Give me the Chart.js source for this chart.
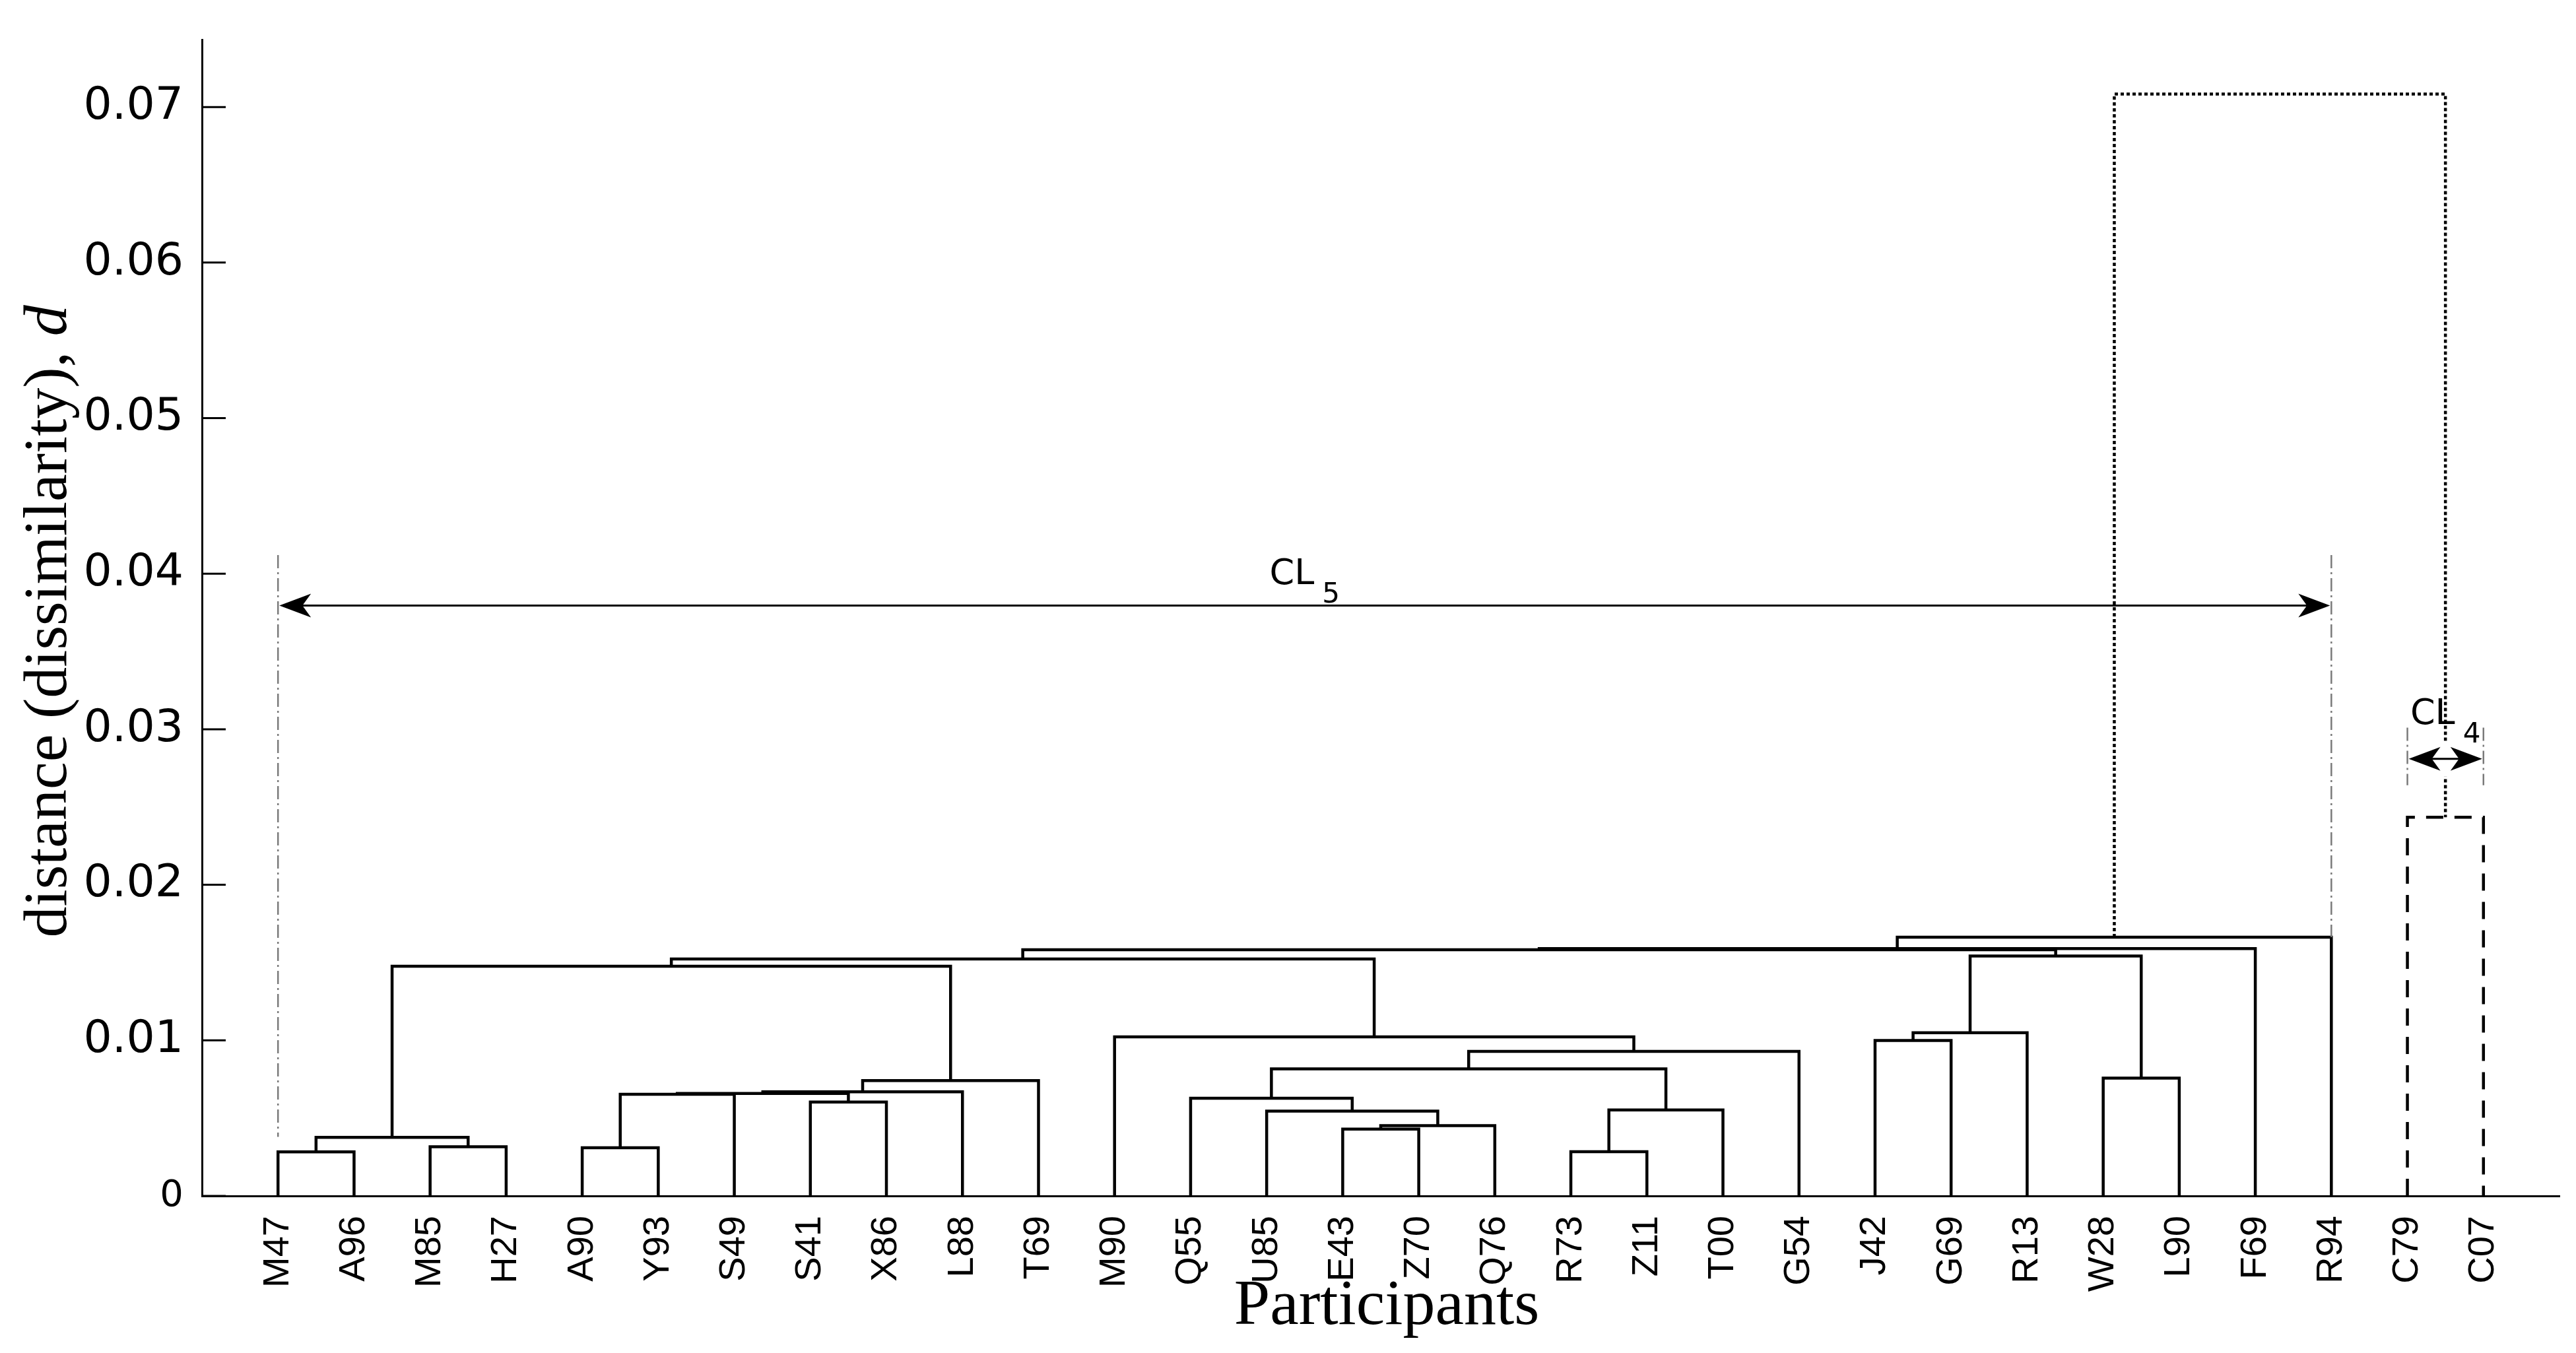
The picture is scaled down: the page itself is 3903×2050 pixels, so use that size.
<!DOCTYPE html>
<html>
<head>
<meta charset="utf-8">
<script src="https://cdn.jsdelivr.net/npm/chart.js@4.4.1/dist/chart.umd.min.js"></script>
<style>
  html, body { margin: 0; padding: 0; background: #ffffff; }
  #wrap { width: 3903px; height: 2050px; }
  canvas { display: block; }
</style>
</head>
<body>
<div id="wrap"><canvas id="c" width="3903" height="2050" style="width:3903px;height:2050px"></canvas></div>
<script>
// ---------------- DATA ----------------
const participants = ['M47','A96','M85','H27','A90','Y93','S49','S41','X86','L88','T69','M90','Q55','U85','E43','Z70','Q76','R73','Z11','T00','G54','J42','G69','R13','W28','L90','F69','R94','C79','C07'];

// linkage: merge k (1-based, named 'n<k>') joins mergeLeft[k-1] and mergeRight[k-1] at mergeHeight[k-1]
const mergeLeft   = ['M47','R73','A90','M85','n1','E43','n6','U85','n2','S41','Q55','n3','n12','n13','n14','W28','n11','n17','J42','M90','n19','n5','n22','n21','n23','n25','n26','C79','n27'];
const mergeRight  = ['A96','Z11','Y93','H27','n4','Z70','Q76','n7','T00','X86','n8','S49','n10','L88','T69','L90','n9','G54','G69','n18','R13','n15','n20','n16','n24','F69','R94','C07','n28'];
const mergeHeight = [0.00283,0.00284,0.00310,0.00316,0.00377,0.00430,0.00452,0.00545,0.00553,0.00604,0.00628,0.00653,0.00659,0.00669,0.00741,0.00757,0.00817,0.00929,0.00999,0.01022,0.01049,0.01477,0.01523,0.01542,0.01583,0.01590,0.01663,0.02434,0.07083];

const yTickValues = [0, 0.01, 0.02, 0.03, 0.04, 0.05, 0.06, 0.07];
const yMax = 0.0743;

// cluster annotations (values in data units)
const clusterBase      = ['CL', 'CL'];
const clusterSub       = ['5', '4'];
const clusterFrom      = ['M47', 'C79'];
const clusterTo        = ['R94', 'C07'];
const clusterArrowAt   = [0.03795, 0.0281];
const clusterLabelAt   = [0.03933, 0.03034];
const clusterGuideTop  = [0.0412, 0.0301];
const clusterGuideLowL = [0.0038, 0.0264];
const clusterGuideLowR = [0.01663, 0.0264];

const yTitle = 'distance (dissimilarity), ';
const yTitleVar = 'd';
const xTitle = 'Participants';

// ---------------- STYLES ----------------
const linkDash = { 28: [26, 17], 29: [5, 4] };
const linkWidth = { 29: 4.5 };

// ---------------- BUILD ----------------
const pos = {};
participants.forEach((p, i) => { pos[p] = { x: i + 1, y: 0 }; });
const datasets = [];
mergeLeft.forEach((a, i) => {
  const b = mergeRight[i];
  const pa = pos[a], pb = pos[b], h = mergeHeight[i];
  const k = i + 1;
  datasets.push({
    data: [{ x: pa.x, y: pa.y }, { x: pa.x, y: h }, { x: pb.x, y: h }, { x: pb.x, y: pb.y }],
    showLine: true,
    borderColor: '#000000',
    borderWidth: linkWidth[k] || 4.5,
    borderDash: linkDash[k] || [],
    pointRadius: 0,
    pointHoverRadius: 0,
    tension: 0,
    fill: false,
    clip: false
  });
  pos['n' + k] = { x: (pa.x + pb.x) / 2, y: h };
});

function arrowHead(ctx, tipX, y, dir) {
  const L = 48, W = 18, N = 35;
  ctx.beginPath();
  ctx.moveTo(tipX, y);
  ctx.lineTo(tipX + dir * L, y - W);
  ctx.lineTo(tipX + dir * N, y);
  ctx.lineTo(tipX + dir * L, y + W);
  ctx.closePath();
  ctx.fill();
}

const decorPlugin = {
  id: 'decor',
  afterDatasetsDraw(chart) {
    const ctx = chart.ctx;
    const xs = chart.scales.x, ys = chart.scales.y;
    const area = chart.chartArea;
    ctx.save();
    // inward y ticks
    ctx.strokeStyle = '#000';
    ctx.lineWidth = 3;
    ctx.setLineDash([]);
    yTickValues.forEach(v => {
      const py = ys.getPixelForValue(v);
      ctx.beginPath();
      ctx.moveTo(area.left, py);
      ctx.lineTo(area.left + 36, py);
      ctx.stroke();
    });
    // cluster annotations
    clusterBase.forEach((base, i) => {
      const xa = pos[clusterFrom[i]].x, xb = pos[clusterTo[i]].x;
      const x1 = xs.getPixelForValue(xa);
      const x2 = xs.getPixelForValue(xb);
      const ya = ys.getPixelForValue(clusterArrowAt[i]);
      // narrow double arrow sits on a small white gap
      if (xb - xa <= 1) {
        ctx.fillStyle = '#fff';
        ctx.fillRect(x1 + 3, ya - 27, x2 - x1 - 6, 54);
      }
      // guides
      ctx.strokeStyle = '#7a7a7a';
      ctx.lineWidth = 2.5;
      ctx.setLineDash([20, 6, 3, 6]);
      ctx.beginPath();
      ctx.moveTo(x1, ys.getPixelForValue(clusterGuideTop[i]));
      ctx.lineTo(x1, ys.getPixelForValue(clusterGuideLowL[i]));
      ctx.moveTo(x2, ys.getPixelForValue(clusterGuideTop[i]));
      ctx.lineTo(x2, ys.getPixelForValue(clusterGuideLowR[i]));
      ctx.stroke();
      // arrow
      ctx.setLineDash([]);
      ctx.strokeStyle = '#000';
      ctx.fillStyle = '#000';
      ctx.lineWidth = 3;
      ctx.beginPath();
      ctx.moveTo(x1 + 20, ya);
      ctx.lineTo(x2 - 20, ya);
      ctx.stroke();
      arrowHead(ctx, x1 + 2, ya, 1);
      arrowHead(ctx, x2 - 2, ya, -1);
      // label
      const yl = ys.getPixelForValue(clusterLabelAt[i]);
      ctx.font = '54px "DejaVu Sans"';
      const wb = ctx.measureText(base).width;
      ctx.font = '42px "DejaVu Sans"';
      const ws = ctx.measureText(clusterSub[i]).width;
      const gap = 12;
      const start = (x1 + x2) / 2 - (wb + gap + ws) / 2;
      ctx.textBaseline = 'alphabetic';
      ctx.textAlign = 'left';
      ctx.font = '54px "DejaVu Sans"';
      ctx.fillText(base, start, yl);
      ctx.font = '42px "DejaVu Sans"';
      ctx.fillText(clusterSub[i], start + wb + gap, yl + 28);
    });
    // y title (serif, italic variable)
    ctx.save();
    ctx.translate(100, (area.top + area.bottom) / 2 + 5);
    ctx.rotate(-Math.PI / 2);
    ctx.fillStyle = '#000';
    ctx.textBaseline = 'alphabetic';
    ctx.textAlign = 'left';
    ctx.font = '94px "Liberation Serif"';
    const w1 = ctx.measureText(yTitle).width;
    ctx.font = 'italic 94px "Liberation Serif"';
    const w2 = ctx.measureText(yTitleVar).width;
    const sx = -(w1 + w2) / 2;
    ctx.font = '94px "Liberation Serif"';
    ctx.fillText(yTitle, sx, 0);
    ctx.font = 'italic 94px "Liberation Serif"';
    ctx.fillText(yTitleVar, sx + w1, 0);
    ctx.restore();
    // x title
    ctx.fillStyle = '#000';
    ctx.font = '98px "Liberation Serif"';
    ctx.textAlign = 'center';
    ctx.textBaseline = 'alphabetic';
    ctx.fillText(xTitle, (area.left + area.right) / 2 + 9, 2006);
    ctx.restore();
  }
};

Chart.defaults.font.family = '"DejaVu Sans"';
Chart.defaults.color = '#000';

new Chart(document.getElementById('c'), {
  type: 'scatter',
  data: { datasets },
  options: {
    responsive: false,
    animation: false,
    devicePixelRatio: 1,
    events: [],
    layout: { padding: { left: 0, right: 25, top: 27, bottom: 0 } },
    plugins: { legend: { display: false }, tooltip: { enabled: false }, title: { display: false } },
    scales: {
      x: {
        type: 'linear',
        min: 0,
        max: participants.length + 1,
        afterBuildTicks: (scale) => { scale.ticks = participants.map((p, i) => ({ value: i + 1 })); },
        afterFit: (scale) => { scale.height = 238; },
        grid: { display: false },
        border: { display: true, color: '#000', width: 3 },
        ticks: {
          autoSkip: false,
          minRotation: 90,
          maxRotation: 90,
          padding: 22,
          color: '#000',
          font: { family: '"Liberation Sans"', size: 56 },
          callback: (v) => participants[Math.round(v) - 1] || ''
        }
      },
      y: {
        type: 'linear',
        min: 0,
        max: yMax,
        afterBuildTicks: (scale) => { scale.ticks = yTickValues.map(v => ({ value: v })); },
        afterFit: (scale) => { scale.width = 306; },
        grid: { display: false },
        border: { display: true, color: '#000', width: 3 },
        ticks: {
          padding: 20,
          color: '#000',
          font: (c) => ({ family: '"DejaVu Sans"', size: (c.tick && c.tick.value === 0) ? 56 : 68 }),
          callback: (v) => v === 0 ? '0' : v.toFixed(2)
        }
      }
    }
  },
  plugins: [decorPlugin]
});
</script>
</body>
</html>
